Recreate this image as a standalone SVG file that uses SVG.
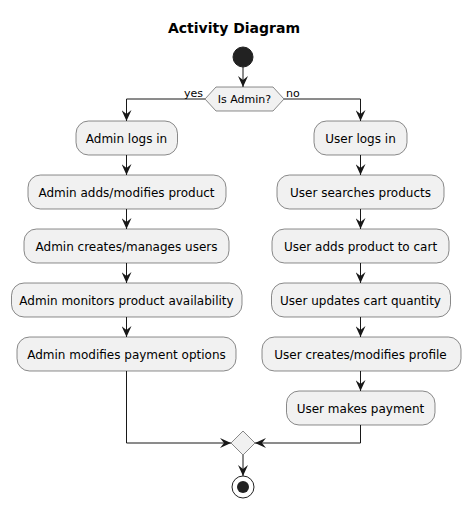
<svg xmlns="http://www.w3.org/2000/svg" width="470" height="507" viewBox="0 0 470 507">
<defs>
<marker id="ah" markerUnits="userSpaceOnUse" markerWidth="11" markerHeight="10" refX="11" refY="5" orient="auto" viewBox="0 0 11 10">
<path d="M0,0 L11,5 L0,10 L4,5 Z" fill="#181818"/>
</marker>
</defs>
<style>
.box{fill:#F1F1F1;stroke:#181818;stroke-width:0.5}
.lbl{font-family:"DejaVu Sans",Verdana,sans-serif;font-size:12px;fill:#000;text-anchor:middle}
.sm{font-family:"DejaVu Sans",Verdana,sans-serif;font-size:11px;fill:#000}
.ln{fill:none;stroke:#181818;stroke-width:1}
.ar{fill:none;stroke:#181818;stroke-width:1;marker-end:url(#ah)}
</style>
<rect width="470" height="507" fill="#FFFFFF"/>
<text x="234" y="33" style="font-family:'DejaVu Sans',Verdana,sans-serif;font-size:14px;font-weight:bold;text-anchor:middle">Activity Diagram</text>
<g id="start"><circle cx="243" cy="57" r="10" fill="#222222" stroke="#222222"/></g>
<g id="decision">
<polygon class="box" points="205,99 216,87 273,87 284,99 273,111 216,111"/>
<text class="sm" x="244.5" y="103" text-anchor="middle">Is Admin?</text>
</g>
<g id="a1"><rect class="box" x="76" y="121" width="101.5" height="34" rx="12.5"/><text class="lbl" x="126.5" y="142.5">Admin logs in</text></g>
<g id="a2"><rect class="box" x="28" y="175" width="198" height="34" rx="12.5"/><text class="lbl" x="126.5" y="196.5">Admin adds/modifies product</text></g>
<g id="a3"><rect class="box" x="24" y="229" width="205" height="34" rx="12.5"/><text class="lbl" x="126.5" y="250.5">Admin creates/manages users</text></g>
<g id="a4"><rect class="box" x="11.5" y="283" width="230.5" height="34" rx="12.5"/><text class="lbl" x="126.5" y="304.5">Admin monitors product availability</text></g>
<g id="a5"><rect class="box" x="17" y="337" width="219" height="34" rx="12.5"/><text class="lbl" x="126.5" y="358.5">Admin modifies payment options</text></g>
<g id="u1"><rect class="box" x="314" y="121" width="93" height="34" rx="12.5"/><text class="lbl" x="360.5" y="142.5">User logs in</text></g>
<g id="u2"><rect class="box" x="277" y="175" width="167" height="34" rx="12.5"/><text class="lbl" x="360.5" y="196.5">User searches products</text></g>
<g id="u3"><rect class="box" x="272" y="229" width="177" height="34" rx="12.5"/><text class="lbl" x="360.5" y="250.5">User adds product to cart</text></g>
<g id="u4"><rect class="box" x="271.5" y="283" width="179" height="34" rx="12.5"/><text class="lbl" x="360.5" y="304.5">User updates cart quantity</text></g>
<g id="u5"><rect class="box" x="262" y="337" width="199" height="34" rx="12.5"/><text class="lbl" x="360.5" y="358.5">User creates/modifies profile</text></g>
<g id="u6"><rect class="box" x="286.5" y="391" width="148.5" height="34" rx="12.5"/><text class="lbl" x="360.5" y="412.5">User makes payment</text></g>
<g id="merge"><polygon class="box" points="243,431 255,443 243,455 231,443"/></g>
<g id="end"><circle cx="243" cy="487" r="11" fill="none" stroke="#222222" stroke-width="1"/><circle cx="243" cy="487" r="6" fill="#222222"/></g>
<g id="connectors">
<line class="ar" x1="243" y1="67" x2="243" y2="87"/>
<polyline class="ar" points="205,99 126.5,99 126.5,121"/>
<polyline class="ar" points="284,99 360.5,99 360.5,121"/>
<text class="sm" x="203" y="97" text-anchor="end">yes</text>
<text class="sm" x="286" y="97">no</text>
<line class="ar" x1="126.5" y1="155" x2="126.5" y2="175"/>
<line class="ar" x1="126.5" y1="209" x2="126.5" y2="229"/>
<line class="ar" x1="126.5" y1="263" x2="126.5" y2="283"/>
<line class="ar" x1="126.5" y1="317" x2="126.5" y2="337"/>
<line class="ar" x1="360.5" y1="155" x2="360.5" y2="175"/>
<line class="ar" x1="360.5" y1="209" x2="360.5" y2="229"/>
<line class="ar" x1="360.5" y1="263" x2="360.5" y2="283"/>
<line class="ar" x1="360.5" y1="317" x2="360.5" y2="337"/>
<line class="ar" x1="360.5" y1="371" x2="360.5" y2="391"/>
<polyline class="ar" points="126.5,371 126.5,443 231,443"/>
<polyline class="ar" points="360.5,425 360.5,443 255,443"/>
<line class="ar" x1="243" y1="455" x2="243" y2="476"/>
</g>
</svg>
